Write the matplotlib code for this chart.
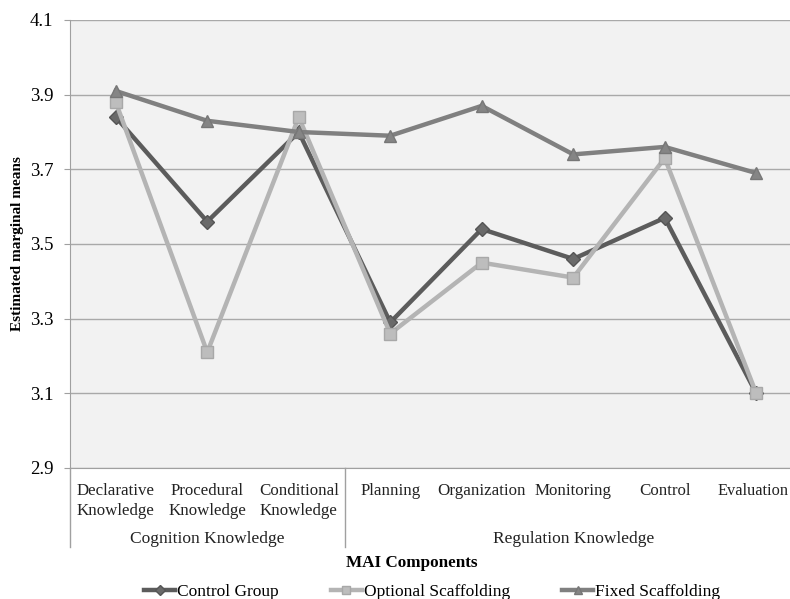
import numpy as np
import matplotlib.pyplot as plt
import matplotlib.transforms as mtransforms

categories = ["Declarative\nKnowledge", "Procedural\nKnowledge", "Conditional\nKnowledge",
              "Planning", "Organization", "Monitoring", "Control", "Evaluation"]
groups = ["Cognition Knowledge", "Regulation Knowledge"]
group_sizes = [3, 5]

control_group = [3.84, 3.56, 3.80, 3.29, 3.54, 3.46, 3.57, 3.10]
optional_scaff = [3.88, 3.21, 3.84, 3.26, 3.45, 3.41, 3.73, 3.10]
fixed_scaff = [3.91, 3.83, 3.80, 3.79, 3.87, 3.74, 3.76, 3.69]

plt.rcParams['font.family'] = ['Liberation Serif', 'DejaVu Serif']

fig = plt.figure(figsize=(7.9, 5.99), dpi=100)
ax = fig.add_axes([70/790, 1-468/599, 732/790, 448/599])
ax.set_facecolor('#f2f2f2')

x = np.arange(len(categories))
ax.plot(x, control_group, color='#5c5c5c', lw=3.2, marker='D', ms=7,
        mfc='#6a6a6a', mec='#555555', label='Control Group', zorder=3)
ax.plot(x, optional_scaff, color='#b4b4b4', lw=3.2, marker='s', ms=9,
        mfc='#bdbdbd', mec='#a8a8a8', label='Optional Scaffolding', zorder=4)
ax.plot(x, fixed_scaff, color='#808080', lw=3.2, marker='^', ms=9,
        mfc='#858585', mec='#777777', label='Fixed Scaffolding', zorder=5)

ax.set_xlim(-0.5, len(categories) - 0.5)
ax.set_ylim(2.9, 4.1)
ax.set_yticks(np.arange(2.9, 4.11, 0.2))
ax.set_yticklabels(["%.1f" % v for v in np.arange(2.9, 4.11, 0.2)])
ax.yaxis.grid(True, color='#a9a9a9', lw=1)
ax.set_axisbelow(True)
ax.set_xticks(x)
ax.set_xticklabels(categories, fontsize=12.2, color='#222222', linespacing=1.3)
ax.tick_params(axis='x', length=0, pad=11)
ax.tick_params(axis='y', length=4, color='#a0a0a0', labelsize=13.5, pad=8)

# last label sits at the right edge, nudge it in a little
last = ax.get_xticklabels()[-1]
last.set_fontsize(11.8)
last.set_transform(last.get_transform() + mtransforms.ScaledTranslation(-3/100, 0, fig.dpi_scale_trans))

for s in ['top', 'right']:
    ax.spines[s].set_visible(False)
ax.spines['left'].set_color('#a0a0a0')
ax.spines['bottom'].set_color('#a0a0a0')

trans = mtransforms.blended_transform_factory(ax.transData, ax.transAxes)
start = 0
for name, size in zip(groups, group_sizes):
    ax.plot([start - 0.5, start - 0.5], [0, -0.177], color='#a0a0a0', lw=1,
            transform=trans, clip_on=False)
    center = start + (size - 1) / 2
    ax.text(center, -0.158, name, transform=trans, ha='center', va='center',
            fontsize=12.5, color='#222222')
    start += size

ax.set_ylabel('Estimated marginal means', fontsize=11, fontweight='bold', labelpad=4)
fig.text(412/790, 1-563/599, 'MAI Components', ha='center', va='center',
         fontsize=12.3, fontweight='bold')

fig.legend(loc='center', bbox_to_anchor=(432/790, 1-592/599), ncol=3, frameon=False,
           fontsize=12.5, handlelength=1.8, columnspacing=3.0, handletextpad=0.1,
           markerscale=0.7)

fig.savefig('out.png', dpi=100)
